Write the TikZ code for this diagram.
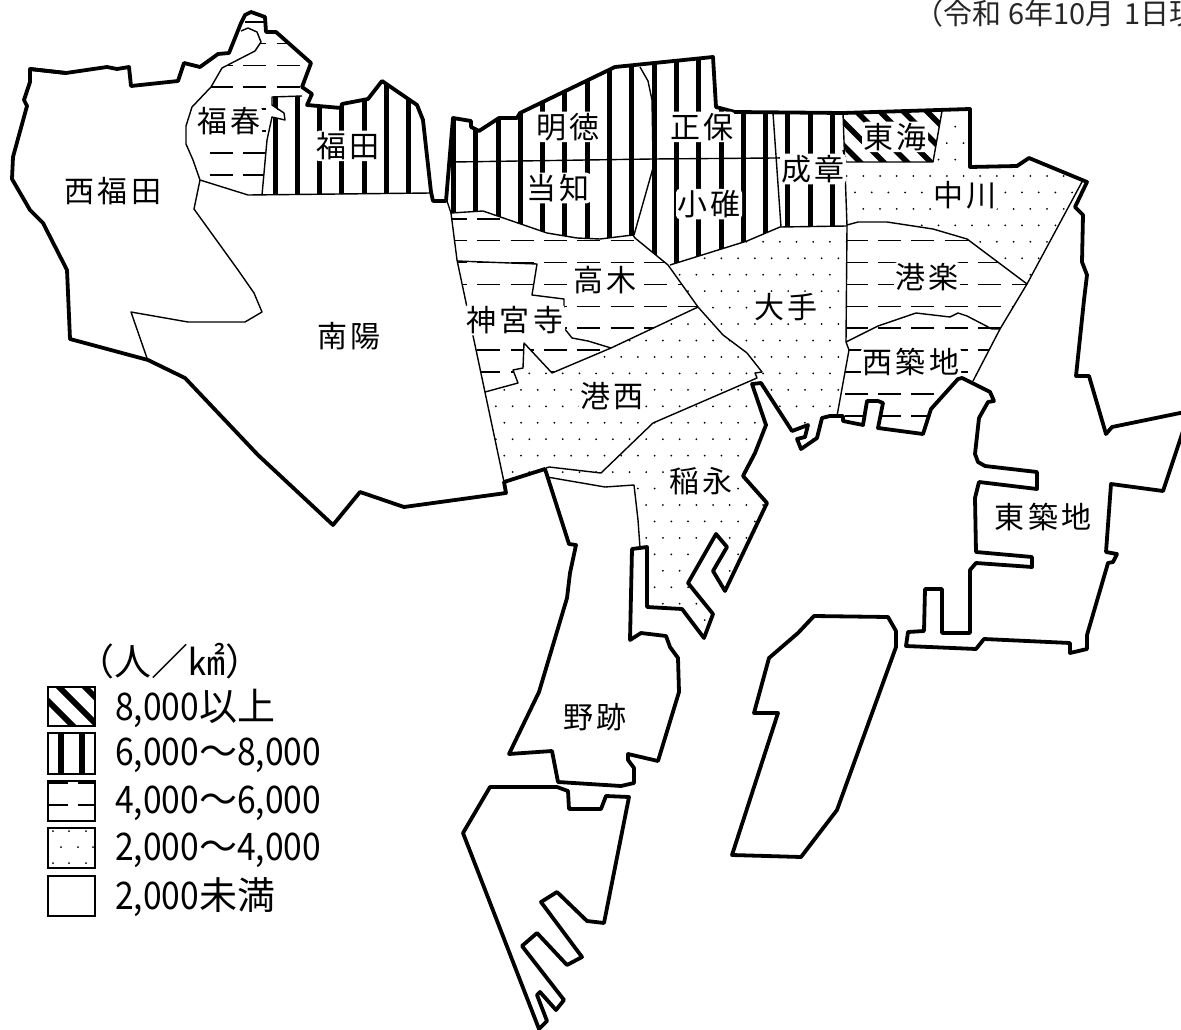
\documentclass[tikz,border=0pt]{standalone}
\usepackage{fontspec}
\usepackage{graphicx}
\setmainfont{Noto Sans CJK JP}
\def\rgFukuharu{(241,23) -- (245,15) -- (251,12) -- (265,17) -- (266,32) -- (276,32) -- (311,63) -- (302,87) -- (312,94) -- (302,96) -- (272,97) -- (272,105) -- (284,113) -- (285,120) -- (272,117) -- (267,140) -- (262,195) -- (248,195) -- (200,180) -- (193,160) -- (186,144) -- (186,126) -- (192,107) -- (211,87) -- (222,68) -- (255,51) -- (261,42) -- (257,32) -- (248,28) -- (241,31) -- cycle}
\def\rgFukuda{(262,195) -- (267,140) -- (272,117) -- (285,120) -- (284,113) -- (272,105) -- (272,97) -- (302,96) -- (312,94) -- (307,105) -- (341,108) -- (342,104) -- (368,99) -- (382,81) -- (417,105) -- (423,120) -- (431,193) -- cycle}
\def\rgMeitoku{(447,201) -- (453,118) -- (471,121) -- (471,127) -- (479,131) -- (499,118) -- (517,118) -- (520,113) -- (615,67) -- (713,57) -- (716,107) -- (735,112) -- (843,113) -- (847,226) -- (780,227) -- (747,241) -- (670,265) -- (668,265) -- (635,238) -- (633,235) -- (600,239) -- (577,238) -- (547,233) -- (483,211) -- (451,213) -- cycle}
\def\rgTokai{(843,113) -- (942,111) -- (933,162) -- (846,162) -- cycle}
\def\rgNakagawa{(942,111) -- (970,109) -- (970,167) -- (1017,166) -- (1029,158) -- (1083,180) -- (1027,284) -- (967,239) -- (933,229) -- (887,222) -- (858,222) -- (847,225) -- (846,162) -- (933,162) -- cycle}
\def\rgKoraku{(847,225) -- (858,222) -- (887,222) -- (933,229) -- (967,239) -- (1027,284) -- (1000,329) -- (992,329) -- (967,316) -- (958,313) -- (950,317) -- (916,313) -- (878,326) -- (846,342) -- cycle}
\def\rgNishi{(846,342) -- (878,326) -- (916,313) -- (950,317) -- (958,313) -- (967,316) -- (992,329) -- (1000,329) -- (973,382) -- (962,378) -- (958,379) -- (931,409) -- (923,434) -- (878,428) -- (883,403) -- (867,401) -- (863,425) -- (843,421) -- (843,416) -- (837,415) -- (849,350) -- cycle}
\def\rgOte{(670,265) -- (747,241) -- (780,227) -- (847,226) -- (846,342) -- (849,350) -- (837,415) -- (830,416) -- (822,418) -- (817,438) -- (801,449) -- (797,439) -- (805,437) -- (808,425) -- (792,431) -- (761,383) -- (757,378) -- (755,373) -- (762,372) -- (747,353) -- (723,335) -- (698,307) -- cycle}
\def\rgTakagi{(451,213) -- (483,211) -- (547,233) -- (577,238) -- (600,239) -- (633,235) -- (635,238) -- (668,265) -- (698,307) -- (611,348) -- (552,373) -- (524,343) -- (523,368) -- (513,370) -- (518,383) -- (485,392) -- (457,260) -- cycle}
\def\rgKonishi{(698,307) -- (723,335) -- (747,353) -- (762,372) -- (755,373) -- (757,378) -- (653,423) -- (601,473) -- (549,467) -- (546,468) -- (504,482) -- (485,392) -- (518,383) -- (513,370) -- (523,368) -- (524,343) -- (552,373) -- (611,348) -- cycle}
\def\rgInae{(757,378) -- (653,423) -- (601,473) -- (549,467) -- (547,477) -- (605,487) -- (634,485) -- (638,520) -- (640,548) -- (647,547) -- (647,607) -- (682,609) -- (704,638) -- (713,614) -- (688,583) -- (716,534) -- (727,547) -- (713,571) -- (725,591) -- (767,503) -- (743,476) -- (755,453) -- (766,425) -- (752,384) -- (761,383) -- cycle}
\tikzset{
  outer/.style={draw=black,line width=3.8pt,line join=round},
  thin line/.style={draw=black,line width=1.4pt,line join=round},
  lbl/.style={fill=white,rounded corners=4pt,inner sep=1pt,text height=25.5pt,text depth=3pt,font=\fontsize{30}{36}\selectfont},
  bare/.style={inner sep=0pt,anchor=west,font=\fontsize{38}{44}\selectfont},
  keybox/.style={draw=black,line width=2pt},
}
\newcommand{\tk}{\kern4pt}
\newcommand{\nar}[1]{\scalebox{.885}[1]{#1}}
\begin{document}
\begin{tikzpicture}[x=1pt,y=-1pt]
\useasboundingbox (0,0) rectangle (1181,1030);
% vertical stripes
\begin{scope}
  \clip \rgFukuda \rgMeitoku;
  \foreach \k in {0,...,26} {\draw[line width=5pt] ({275+22.3*\k},50) -- ({275+22.3*\k},300);}
\end{scope}
% diagonal stripes
\begin{scope}
  \clip \rgTokai;
  \foreach \c in {698,721.5,745,768.5,792,815.5} {\draw[line width=5.5pt] ({\c+100},100) -- ({\c+180},180);}
\end{scope}
% dashes
\begin{scope}
  \clip \rgFukuharu \rgTakagi \rgKoraku \rgNishi;
  \foreach \k in {0,...,17} {\draw[line width=1.6pt,dash pattern=on 23pt off 10.4pt] (209.9,{43.5+21.9*\k}) -- (1100,{43.5+21.9*\k});}
\end{scope}
% dots
\begin{scope}
  \clip \rgNakagawa \rgOte \rgKonishi \rgInae;
  \foreach \k in {-4,-2,...,28} {
    \foreach \m in {-24,...,14} {\fill ({863.3+16.7*\m},{176+16.45*\k}) circle (1);
                                 \fill ({855+16.7*\m},{176+16.45*(\k+1)}) circle (1);}
  }
\end{scope}
% thin inner boundaries
\draw[thin line] (245,22) -- (265,22);
\draw[thin line] (241,31) -- (248,28) -- (257,32) -- (261,42) -- (255,51) -- (222,68) -- (211,87) -- (192,107) -- (186,126) -- (186,144) -- (193,160) -- (200,180) -- (248,195) -- (431,193);
\draw[thin line] (262,195) -- (267,140) -- (272,117) -- (285,120) -- (284,113) -- (272,105) -- (272,97) -- (302,96);
\draw[thin line] (200,180) -- (194,209) -- (238,270) -- (254,293) -- (262,312) -- (245,322) -- (188,322) -- (131,312) -- (148,361);
\draw[thin line] (453,162) -- (653,159) -- (775,158) -- (846,157);
\draw[thin line] (640,67) -- (648,81) -- (652,100) -- (653,159) -- (653,168) -- (634,235);
\draw[thin line] (447,201) -- (451,213) -- (483,211) -- (547,233) -- (577,238) -- (600,239) -- (633,235) -- (635,238) -- (668,265) -- (698,307) -- (723,335) -- (747,353) -- (762,372) -- (755,373) -- (757,378) -- (653,423) -- (601,473) -- (549,467) -- (546,468);
\draw[thin line] (670,265) -- (747,241) -- (780,227) -- (847,226);
\draw[thin line] (773,113) -- (781,227);
\draw[thin line] (843,113) -- (847,226) -- (846,342) -- (849,350) -- (837,416);
\draw[thin line] (942,111) -- (933,162) -- (846,162) -- (843,150);
\draw[thin line] (847,225) -- (858,222) -- (887,222) -- (933,229) -- (967,239) -- (1027,284);
\draw[thin line] (846,342) -- (878,326) -- (916,313) -- (950,317) -- (958,313) -- (967,316) -- (992,329) -- (1000,329);
\draw[thin line] (1083,180) -- (1027,284) -- (1000,329) -- (973,381);
\draw[thin line] (451,213) -- (457,260) -- (504,482);
\draw[thin line] (457,261) -- (537,264) -- (532,295) -- (564,299) -- (564,328) -- (572,338) -- (588,341) -- (611,348);
\draw[thin line] (698,307) -- (611,348) -- (552,373) -- (524,343) -- (523,368) -- (513,370) -- (518,383) -- (485,392);
\draw[thin line] (547,477) -- (605,487) -- (634,485) -- (638,520) -- (640,548);
% mainland outline
\draw[outer] (30,69) -- (66,73) -- (107,67) -- (117,69) -- (129,67) -- (131,86) -- (178,81) -- (184,63) -- (200,67) -- (218,54) -- (229,53) -- (241,23) -- (245,15) -- (251,12) -- (265,17) -- (266,32) -- (276,32) -- (311,63) -- (302,87) -- (312,94) -- (307,105) -- (341,108) -- (342,104) -- (368,99) -- (382,81) -- (417,105) -- (423,120) -- (431,192) -- (433,201) -- (446,201) -- (453,118) -- (471,121) -- (471,127) -- (479,131) -- (499,118) -- (517,118) -- (520,113) -- (615,67) -- (713,57) -- (716,107) -- (735,112) -- (843,113) -- (970,109) -- (970,167) -- (1017,166) -- (1029,158) -- (1087,182) -- (1075,207) -- (1083,215) -- (1082,262) -- (1087,275) -- (1084,300) -- (1076,376) -- (1089,376) -- (1106,434) -- (1112,427) -- (1185,412);
\draw[outer] (1185,425) -- (1163,491) -- (1111,484) -- (1106,552) -- (1117,554) -- (1113,562) -- (1108,563) -- (1087,635) -- (1087,649) -- (1070,653) -- (1070,643) -- (984,639) -- (976,649) -- (906,646) -- (908,632) -- (924,631) -- (925,589) -- (942,589) -- (942,633) -- (970,633) -- (970,570) -- (976,563) -- (1032,567) -- (1032,557) -- (976,552) -- (975,498) -- (979,482) -- (1037,489) -- (1037,472) -- (985,466) -- (978,462) -- (975,454) -- (979,418) -- (988,402) -- (994,401) -- (990,392) -- (962,378) -- (958,379) -- (931,409) -- (923,434) -- (878,428) -- (883,403) -- (878,401) -- (867,401) -- (863,425) -- (843,421) -- (843,416) -- (830,416) -- (822,418) -- (817,438) -- (801,449) -- (797,439) -- (805,437) -- (808,425) -- (792,431) -- (761,383) -- (752,384) -- (766,425) -- (755,453) -- (743,476) -- (767,503) -- (725,591) -- (713,571) -- (727,547) -- (716,534) -- (688,583) -- (713,614) -- (704,638) -- (682,609) -- (647,607) -- (647,547) -- (632,549) -- (630,640) -- (641,633) -- (666,636) -- (670,647) -- (678,658) -- (679,692) -- (658,761) -- (628,754) -- (628,760) -- (634,768) -- (634,783) -- (621,786) -- (558,782) -- (552,751) -- (509,754) -- (539,692) -- (567,598) -- (570,573) -- (576,545) -- (569,544) -- (545,469) -- (504,482) -- (506,493) -- (404,507) -- (360,492) -- (333,525) -- (258,455) -- (185,378) -- (148,360) -- (70,339) -- (67,270) -- (43,223) -- (30,210) -- (12,179) -- (13,157) -- (27,106) -- (24,100) -- (30,82) -- (30,69) -- (66,73);
% islands
\draw[outer] (769,658) -- (798,633) -- (814,616) -- (888,617) -- (896,631) -- (896,647) -- (837,810) -- (801,857) -- (732,855) -- (778,713) -- (754,713) -- cycle;
\draw[outer] (490,787) -- (557,787) -- (568,791) -- (569,809) -- (601,809) -- (606,796) -- (629,797) -- (604,923) -- (587,921) -- (557,892) -- (541,902) -- (582,957) -- (567,965) -- (537,933) -- (522,946) -- (564,1000) -- (556,1010) -- (540,992) -- (537,995) -- (547,1021) -- (539,1029) -- (463,833) -- cycle;
% labels
\node[lbl] (nishifukuda) at (113,191) {西\tk 福\tk 田};
\node[lbl] (fukuharu) at (229,121) {福\tk 春};
\node[lbl] (fukuda) at (348,146) {福\tk 田};
\node[lbl] (nanyo) at (349,336) {南\tk 陽};
\node[lbl] (meitoku) at (568,127) {明\tk 徳};
\node[lbl] (tochi) at (558,188) {当\tk 知};
\node[lbl] (shoho) at (702,127) {正\tk 保};
\node[lbl] (kousu) at (709,204) {小\tk 碓};
\node[lbl] (seisho) at (813,169) {成\tk 章};
\node[lbl] (tokai) at (895,137) {東\tk 海};
\node[lbl] (nakagawa) at (965,195) {中\tk 川};
\node[lbl] (koraku) at (927,277) {港\tk 楽};
\node[lbl] (ote) at (786,307) {大\tk 手};
\node[lbl] (takagi) at (605,280) {高\tk 木};
\node[lbl] (jingu) at (515,320) {神\tk 宮\tk 寺};
\node[lbl] (konishi) at (612,396) {港\tk 西};
\node[lbl] (nishitsuki) at (911,362) {西\tk 築\tk 地};
\node[lbl] (inae) at (701,481) {稲\tk 永};
\node[lbl] (noseki) at (595,717) {野\tk 跡};
\node[lbl] (higashi) at (1043,517) {東\tk 築\tk 地};
% date
\node[inner sep=0pt,anchor=base west,font=\fontsize{29}{33}\selectfont,text=black!85] (date) at (914,25) {（令和\kern7pt 6年10月\kern10pt 1日現};
% legend
\node[bare,font=\fontsize{37}{44}\selectfont] (unit) at (77,661) {（人／㎢）};
\begin{scope}
  \clip (48,687) rectangle (95,726);
  \foreach \c in {-653,-628,-602} {\draw[line width=6pt] ({40},{40-\c}) -- ({100},{100-\c});}
\end{scope}
\node[keybox,minimum width=47pt,minimum height=39pt,inner sep=0pt] (k1) at (71.5,706.5) {};
\draw[line width=6pt] (61,733) -- (61,774);
\draw[line width=6pt] (82,733) -- (82,774);
\node[keybox,minimum width=47pt,minimum height=41pt,inner sep=0pt] (k2) at (71.5,753.5) {};
\node[keybox,minimum width=47pt,minimum height=40pt,inner sep=0pt] (k3) at (71.5,801) {};
\draw[line width=2pt] (48,782.5) -- (68,782.5) (78,782.5) -- (95,782.5);
\draw[line width=1.5pt] (48,805) -- (68,805) (78,805) -- (95,805);
\node[keybox,minimum width=47pt,minimum height=40pt,inner sep=0pt] (k4) at (71.5,848) {};
\foreach \px/\py in {53/831,69/831,86/831,61/847,78/847,93/847,53/863,69/863,86/863} {\fill (\px,\py) circle (1);}
\node[keybox,minimum width=47pt,minimum height=40pt,inner sep=0pt] (k5) at (71.5,896) {};
\node[bare] (t1) at (115,708) {\nar{8,000}以上};
\node[bare] (t2) at (115,755) {\nar{6,000}～\nar{8,000}};
\node[bare] (t3) at (115,803) {\nar{4,000}～\nar{6,000}};
\node[bare] (t4) at (115,850) {\nar{2,000}～\nar{4,000}};
\node[bare] (t5) at (115,897) {\nar{2,000}未満};
\end{tikzpicture}
\end{document}
